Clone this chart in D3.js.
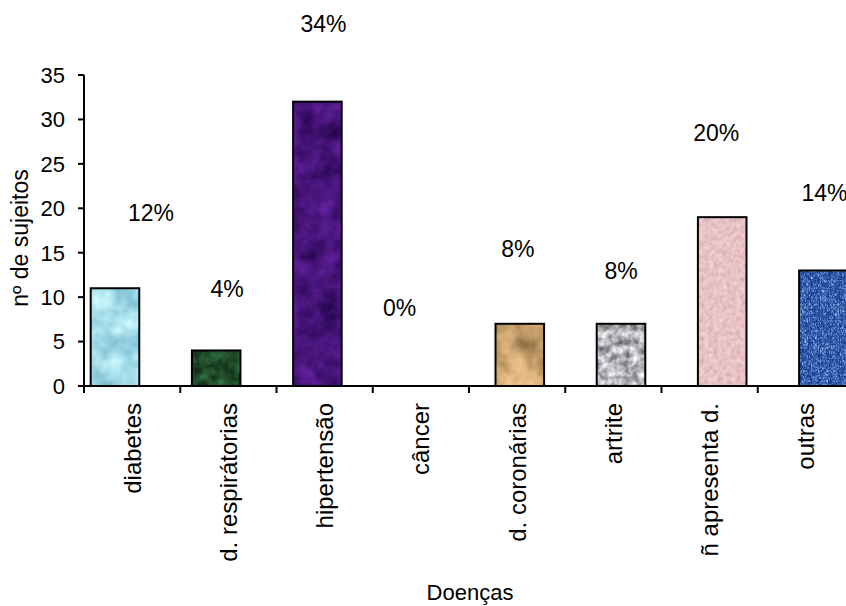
<!DOCTYPE html>
<html>
<head>
<meta charset="utf-8">
<script src="https://cdn.jsdelivr.net/npm/d3@7"></script>
<style>
  html, body { margin: 0; padding: 0; background: #fff; }
  svg { display: block; font-family: "Liberation Sans", Arial, sans-serif; }
</style>
</head>
<body>
<svg id="chart" width="846" height="606"></svg>
<script>
// Number of subjects per disease
const categories = ["diabetes", "d. respirátorias", "hipertensão", "câncer",
                    "d. coronárias", "artrite", "ñ apresenta d.", "outras"];
const counts = [11, 4, 32, 0, 7, 7, 19, 13];
const yTicks = [0, 5, 10, 15, 20, 25, 30, 35];

// Hand-placed offsets of the percentage labels, relative to each bar's top centre
const labelNudge = [[36, -76], [11, -62], [6, -78], [-19, -78],
                    [-2, -75], [0, -53], [-6, -84], [1, -78]];

// Fill textures: base colour, variation, noise frequency
const textures = [
  { base: [0.64, 0.86, 0.91], amp: [0.55, 0.40, 0.30], freq: "0.045", oct: 3, type: "fractalNoise" },
  { base: [0.12, 0.29, 0.16], amp: [0.25, 0.50, 0.30], freq: "0.08",  oct: 3, type: "fractalNoise" },
  { base: [0.28, 0.08, 0.48], amp: [0.35, 0.15, 0.45], freq: "0.05",  oct: 4, type: "fractalNoise" },
  { base: [0.80, 0.80, 0.80], amp: [0.3, 0.3, 0.3],    freq: "0.05",  oct: 3, type: "fractalNoise" },
  { base: [0.77, 0.62, 0.42], amp: [0.75, 0.65, 0.55], freq: "0.03",  oct: 4, type: "fractalNoise" },
  { base: [0.70, 0.70, 0.72], amp: [0.95, 0.95, 0.95], freq: "0.13",  oct: 3, type: "fractalNoise" },
  { base: [0.91, 0.76, 0.77], amp: [0.20, 0.22, 0.22], freq: "0.22",  oct: 3, type: "fractalNoise" },
  { base: [0.42, 0.56, 0.82], amp: [0.80, 0.75, 0.60], freq: "0.45 0.30", oct: 2, type: "turbulence" }
];

const total = d3.sum(counts);
const pctLabel = v => Math.round(v / total * 100) + "%";

const svg = d3.select("#chart");
const yTop = 75, yBottom = 386, xLeft = 84;

const y = d3.scaleLinear().domain([0, 35]).range([yBottom, yTop]);

// Category axis (ticks between categories, labels centred in each band)
const xAxisScale = d3.scaleBand().domain(categories).range([xLeft, 854]).padding(0);
// Bar placement
const xBar = d3.scaleBand().domain(categories).range([64.4, 874])
  .paddingInner(0.52).paddingOuter(0.26);

// Texture filters
const defs = svg.append("defs");
textures.forEach((t, i) => {
  const f = defs.append("filter").attr("id", "tex" + i)
    .attr("color-interpolation-filters", "sRGB")
    .attr("x", "0%").attr("y", "0%").attr("width", "100%").attr("height", "100%");
  f.append("feTurbulence").attr("type", t.type).attr("baseFrequency", t.freq)
    .attr("numOctaves", t.oct).attr("seed", 3 + i).attr("result", "noise");
  const m = [0, 1, 2].map(k => {
    const row = [0, 0, 0, 0, t.base[k] - t.amp[k] * 0.5];
    row[0] = t.amp[k];
    return row.join(" ");
  }).join("  ") + "  0 0 0 0 1";
  f.append("feColorMatrix").attr("in", "noise").attr("type", "matrix")
    .attr("values", m).attr("result", "col");
  f.append("feComposite").attr("in", "col").attr("in2", "SourceGraphic").attr("operator", "in");
});

// Bars
const bars = svg.append("g");
categories.forEach((c, i) => {
  if (counts[i] <= 0) return;
  const x0 = xBar(c), w = xBar.bandwidth();
  const yt = y(counts[i]), h = y(0) - y(counts[i]);
  bars.append("rect").attr("x", x0).attr("y", yt).attr("width", w).attr("height", h)
    .attr("fill", "#888").attr("filter", "url(#tex" + i + ")");
  bars.append("rect").attr("x", x0).attr("y", yt).attr("width", w).attr("height", h)
    .attr("fill", "none").attr("stroke", "#000").attr("stroke-width", 2);
});

// Y axis
const gy = svg.append("g");
gy.append("line").attr("x1", xLeft).attr("x2", xLeft).attr("y1", yTop).attr("y2", yBottom)
  .attr("stroke", "#000").attr("stroke-width", 2);
gy.selectAll("line.tick").data(yTicks).join("line").attr("class", "tick")
  .attr("x1", xLeft - 6).attr("x2", xLeft).attr("y1", d => y(d)).attr("y2", d => y(d))
  .attr("stroke", "#000").attr("stroke-width", 2);
gy.selectAll("text").data(yTicks).join("text")
  .attr("x", 65).attr("y", d => y(d)).attr("dy", "0.36em")
  .attr("text-anchor", "end").attr("font-size", 22).attr("fill", "#000")
  .text(d => d);

// X axis
const gx = svg.append("g");
gx.append("line").attr("x1", xLeft).attr("x2", 846).attr("y1", yBottom).attr("y2", yBottom)
  .attr("stroke", "#000").attr("stroke-width", 2);
gx.selectAll("line.tick").data(categories).join("line").attr("class", "tick")
  .attr("x1", d => xAxisScale(d)).attr("x2", d => xAxisScale(d))
  .attr("y1", yBottom).attr("y2", yBottom + 7)
  .attr("stroke", "#000").attr("stroke-width", 2);
gx.selectAll("text").data(categories).join("text")
  .attr("transform", d => `translate(${xAxisScale(d) + xAxisScale.bandwidth() / 2 + 8.5},403) rotate(-90)`)
  .attr("text-anchor", "end").attr("font-size", 24).attr("fill", "#000")
  .text(d => d);

// Percentage labels
svg.append("g").selectAll("text").data(categories).join("text")
  .attr("x", (d, i) => xBar(d) + xBar.bandwidth() / 2 + labelNudge[i][0])
  .attr("y", (d, i) => y(counts[i]) + labelNudge[i][1])
  .attr("dy", "0.36em").attr("text-anchor", "middle")
  .attr("font-size", 23).attr("fill", "#000")
  .text((d, i) => pctLabel(counts[i]));

// Axis titles
svg.append("text").attr("transform", "translate(28,238) rotate(-90)")
  .attr("text-anchor", "middle").attr("font-size", 23).attr("fill", "#000")
  .text("nº de sujeitos");
svg.append("text").attr("x", 470).attr("y", 600)
  .attr("text-anchor", "middle").attr("font-size", 22).attr("fill", "#000")
  .text("Doenças");
</script>
</body>
</html>
